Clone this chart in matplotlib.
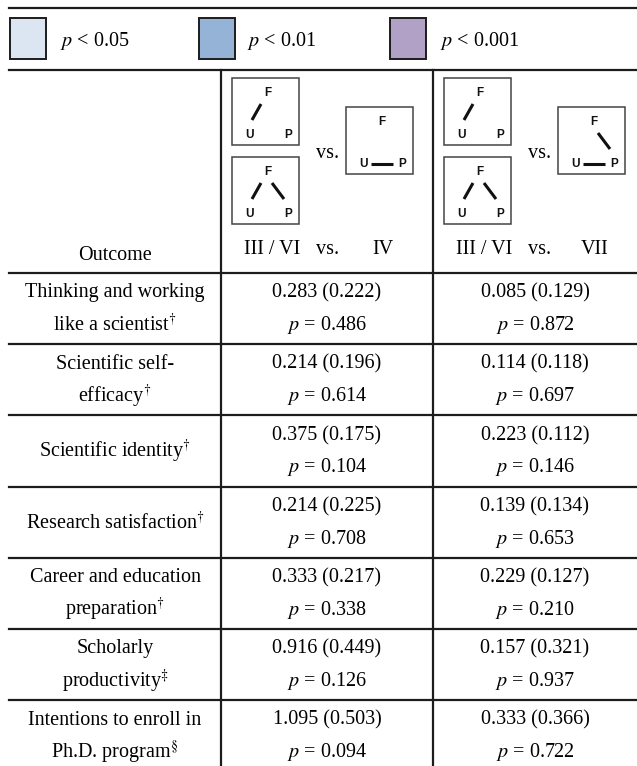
"""Recreate the moderation-comparison table (models III/VI vs IV and VII)."""

import matplotlib
matplotlib.use("Agg")
import matplotlib.pyplot as plt
import matplotlib.patches as mpatches

plt.rcParams["mathtext.fontset"] = "stix"

SERIF = "Liberation Serif"
SANS = "Liberation Sans"
LINE = "#1c1c1c"

# Legend
sig_labels = ["$p$ < 0.05", "$p$ < 0.01", "$p$ < 0.001"]
sig_colors = ["#dce6f2", "#95b3d7", "#b2a1c7"]

# Row labels (lines of each label)
outcomes = [
    ["Thinking and working", r"like a scientist$^{\dagger}$"],
    ["Scientific self-", r"efficacy$^{\dagger}$"],
    [r"Scientific identity$^{\dagger}$"],
    [r"Research satisfaction$^{\dagger}$"],
    ["Career and education", r"preparation$^{\dagger}$"],
    ["Scholarly", r"productivity$^{\ddagger}$"],
    ["Intentions to enroll in", r"Ph.D. program$^{\S}$"],
]

# III / VI vs IV
est_iv = [0.283, 0.214, 0.375, 0.214, 0.333, 0.916, 1.095]
se_iv = [0.222, 0.196, 0.175, 0.225, 0.217, 0.449, 0.503]
p_iv = [0.486, 0.614, 0.104, 0.708, 0.338, 0.126, 0.094]

# III / VI vs VII
est_vii = [0.085, 0.114, 0.223, 0.139, 0.229, 0.157, 0.333]
se_vii = [0.129, 0.118, 0.112, 0.134, 0.127, 0.321, 0.366]
p_vii = [0.872, 0.697, 0.146, 0.653, 0.210, 0.937, 0.722]

# header model diagrams: edges drawn in each small box
col_models = [
    [["UF"], ["UF", "FP"], ["UP"]],
    [["UF"], ["UF", "FP"], ["UP", "FP"]],
]
col_titles = [("III / VI", "vs.", "IV"), ("III / VI", "vs.", "VII")]


def draw_model(ax, x0, y0, edges, size=67):
    """Small box with F/U/P nodes and the paths that are present."""
    ax.add_patch(mpatches.Rectangle((x0, y0), size, size, facecolor="white",
                                    edgecolor="#444444", linewidth=1.1))
    for lab, dx, dy in [("F", 36, 15), ("U", 18, 57), ("P", 56, 57)]:
        ax.text(x0 + dx, y0 + dy, lab, fontsize=8.5, fontweight="bold",
                family=SANS, ha="center", va="center", color="#111111")
    segs = {"UF": ((20, 42), (29, 26)), "FP": ((40, 26), (52, 42)),
            "UP": ((25, 57), (47, 57))}
    for e in edges:
        (ax_, ay), (bx, by) = segs[e]
        ax.plot([x0 + ax_, x0 + bx], [y0 + ay, y0 + by], color="#111111",
                linewidth=2.2, solid_capstyle="butt")


def make_table():
    fig = plt.figure(figsize=(6.37, 7.66), dpi=100)
    ax = fig.add_axes([0, 0, 1, 1])
    ax.set_xlim(0, 637)
    ax.set_ylim(766, 0)
    ax.axis("off")

    left, right = 9, 637
    v1, v2 = 221, 433
    head_top, head_bot = 70, 273
    row_h = 71.2
    fs = 14.5

    # legend
    ax.plot([left, right], [8, 8], color=LINE, linewidth=1.6)
    for (bx, tx), lab, c in zip([(10, 60), (199, 247), (390, 440)], sig_labels, sig_colors):
        ax.add_patch(mpatches.Rectangle((bx, 18), 36, 41, facecolor=c,
                                        edgecolor=LINE, linewidth=1.4))
        ax.text(tx, 41, lab, fontsize=fs, family=SERIF, ha="left", va="center")

    # grid lines
    row_tops = [head_bot + i * row_h for i in range(len(outcomes))]
    for y in [head_top, head_bot] + row_tops[1:]:
        ax.plot([left, right], [y, y], color=LINE, linewidth=1.6)
    for x in (v1, v2):
        ax.plot([x, x], [head_top, 766], color=LINE, linewidth=1.6)

    # header
    ax.text((left + v1) / 2, 255, "Outcome", fontsize=fs, family=SERIF,
            ha="center", va="center")
    for ci, (x_off, models) in enumerate(zip((v1, v2), col_models)):
        a, b, c = models
        draw_model(ax, x_off + 11, 78, a)
        draw_model(ax, x_off + 11, 157, b)
        draw_model(ax, x_off + 125, 107, c)
        ax.text(x_off + 107, 153, "vs.", fontsize=fs, family=SERIF,
                ha="center", va="center")
        for dx, t in zip((51, 107, 162), col_titles[ci]):
            ax.text(x_off + dx, 250, t, fontsize=fs, family=SERIF,
                    ha="center", va="center")

    # body
    cols = [((v1 + v2) / 2, est_iv, se_iv, p_iv),
            ((v2 + right) / 2, est_vii, se_vii, p_vii)]
    for i, top in enumerate(row_tops):
        lines = outcomes[i]
        if len(lines) == 2:
            ys = [top + 20, top + 52]
        else:
            ys = [top + 36]
        for y, t in zip(ys, lines):
            ax.text((left + v1) / 2, y, t, fontsize=fs, family=SERIF,
                    ha="center", va="center")
        for cx, est, se, pv in cols:
            ax.text(cx, top + 20, f"{est[i]:.3f} ({se[i]:.3f})", fontsize=fs,
                    family=SERIF, ha="center", va="center")
            ax.text(cx, top + 52, f"$p$ = {pv[i]:.3f}", fontsize=fs,
                    family=SERIF, ha="center", va="center")

    fig.savefig("out.png", dpi=100, facecolor="white")
    plt.close()


if __name__ == "__main__":
    make_table()
